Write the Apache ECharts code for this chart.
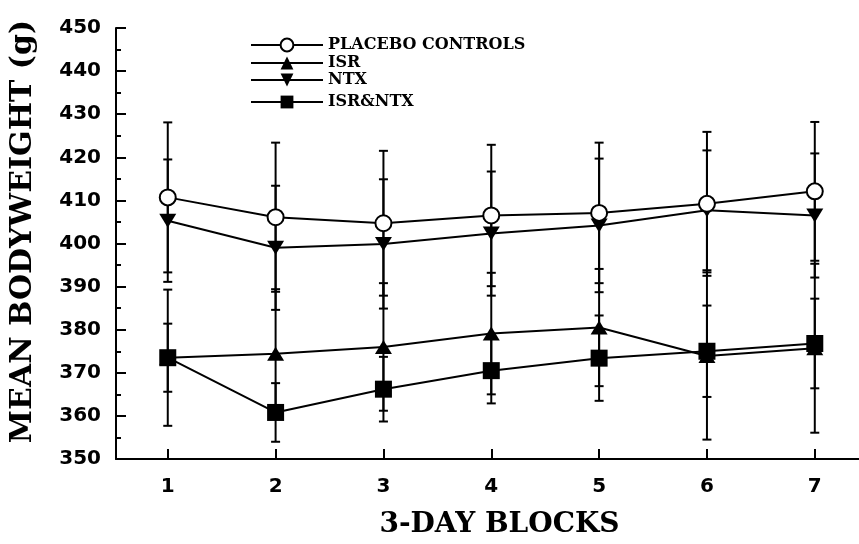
<!DOCTYPE html>
<html>
<head>
<meta charset="utf-8">
<script src="https://cdn.jsdelivr.net/npm/echarts@6/dist/echarts.min.js"></script>
<style>
  html, body { margin: 0; padding: 0; background: #fff; }
  #chart { width: 859px; height: 544px; }
</style>
</head>
<body>
<div id="chart"></div>
<script>
// 3-day blocks along the x axis
const blocks = [1, 2, 3, 4, 5, 6, 7];
const yTicks = [350, 360, 370, 380, 390, 400, 410, 420, 430, 440, 450];

// Group means (g) and error-bar half widths
const placebo   = [410.7, 406.1, 404.7, 406.5, 407.1, 409.2, 412.1];
const placeboSE = [17.4, 17.3, 16.8, 16.4, 16.3, 16.7, 16.1];
const isr       = [373.5, 374.4, 376.0, 379.1, 380.5, 373.9, 375.7];
const isrSE     = [7.9, 15.0, 14.8, 14.1, 13.6, 19.4, 19.6];
const ntx       = [405.3, 399.0, 399.9, 402.3, 404.2, 407.7, 406.5];
const ntxSE     = [14.2, 14.4, 15.0, 14.4, 15.5, 13.9, 14.4];
const isrNtx    = [373.5, 360.8, 366.2, 370.5, 373.4, 375.0, 376.8];
const isrNtxSE  = [15.8, 6.8, 7.5, 7.6, 9.9, 10.6, 10.4];

const names = ['PLACEBO CONTROLS', 'ISR', 'NTX', 'ISR&NTX'];

const serifBold = { fontFamily: 'DejaVu Serif', fontWeight: 'bold', color: '#000' };
const sansBold  = { fontFamily: 'DejaVu Sans', fontWeight: 'bold', color: '#000' };

function pairs(vals) { return blocks.map((b, i) => [b, vals[i]]); }

// Vertical error bar with short caps at both ends
function errorSeries(name, vals, se) {
  return {
    type: 'custom',
    name: name + ' SE',
    z: 1,
    silent: true,
    data: blocks.map((b, i) => [b, vals[i] - se[i], vals[i] + se[i]]),
    renderItem: function (params, api) {
      const lo = api.coord([api.value(0), api.value(1)]);
      const hi = api.coord([api.value(0), api.value(2)]);
      const w = 4.5;
      const st = { stroke: '#000', lineWidth: 2 };
      return {
        type: 'group',
        children: [
          { type: 'line', shape: { x1: lo[0], y1: lo[1], x2: hi[0], y2: hi[1] }, style: st },
          { type: 'line', shape: { x1: lo[0] - w, y1: lo[1], x2: lo[0] + w, y2: lo[1] }, style: st },
          { type: 'line', shape: { x1: hi[0] - w, y1: hi[1], x2: hi[0] + w, y2: hi[1] }, style: st }
        ]
      };
    }
  };
}

function lineSeries(name, vals, symbol, size, fill, rotate) {
  return {
    type: 'line',
    name: name,
    z: 3,
    data: pairs(vals),
    symbol: symbol,
    symbolSize: size,
    symbolRotate: rotate || 0,
    showAllSymbol: true,
    lineStyle: { color: '#000', width: 2 },
    itemStyle: { color: fill, borderColor: '#000', borderWidth: fill === '#fff' ? 2 : 0 },
    emphasis: { disabled: true },
    animation: false
  };
}

const legendTops = [37, 55, 72, 94];
const legends = names.map((n, i) => ({
  data: [n],
  left: 250,
  top: legendTops[i],
  padding: 0,
  itemWidth: 72,
  itemHeight: 16,
  selectedMode: false,
  textStyle: Object.assign({ fontSize: 16 }, serifBold)
}));

const chart = echarts.init(document.getElementById('chart'), null, { renderer: 'canvas' });
chart.setOption({
  animation: false,
  backgroundColor: '#fff',
  legend: legends,
  grid: { left: 115, right: 0, top: 28, bottom: 85, containLabel: false },
  xAxis: {
    type: 'value',
    min: 0.52,
    max: 7.41,
    name: '3-DAY BLOCKS',
    nameLocation: 'middle',
    nameGap: 52,
    nameTextStyle: Object.assign({ fontSize: 28, padding: [0, 0, 0, 24] }, serifBold),
    axisLine: { lineStyle: { color: '#000', width: 2 } },
    axisTick: { inside: true, length: 10, lineStyle: { color: '#000', width: 2 }, customValues: blocks },
    axisLabel: Object.assign({ fontSize: 20, margin: 18, customValues: blocks }, sansBold),
    splitLine: { show: false }
  },
  yAxis: {
    type: 'value',
    min: yTicks[0],
    max: yTicks[yTicks.length - 1],
    interval: 10,
    name: 'MEAN BODYWEIGHT (g)',
    nameLocation: 'middle',
    nameRotate: 90,
    nameGap: 78,
    nameTextStyle: Object.assign({ fontSize: 30, padding: [0, 0, 0, 24] }, serifBold),
    axisLine: { show: true, lineStyle: { color: '#000', width: 2 } },
    axisTick: { inside: true, length: 10, lineStyle: { color: '#000', width: 2 } },
    minorTick: { show: true, splitNumber: 2, length: 5, lineStyle: { color: '#000', width: 2 } },
    axisLabel: Object.assign({ fontSize: 20, margin: 15 }, sansBold),
    splitLine: { show: false }
  },
  series: [
    errorSeries(names[0], placebo, placeboSE),
    errorSeries(names[1], isr, isrSE),
    errorSeries(names[2], ntx, ntxSE),
    errorSeries(names[3], isrNtx, isrNtxSE),
    lineSeries(names[1], isr, 'triangle', [17, 14], '#000'),
    lineSeries(names[2], ntx, 'triangle', [17, 14], '#000', 180),
    lineSeries(names[3], isrNtx, 'rect', 17, '#000'),
    lineSeries(names[0], placebo, 'circle', 16, '#fff')
  ]
});
</script>
</body>
</html>
